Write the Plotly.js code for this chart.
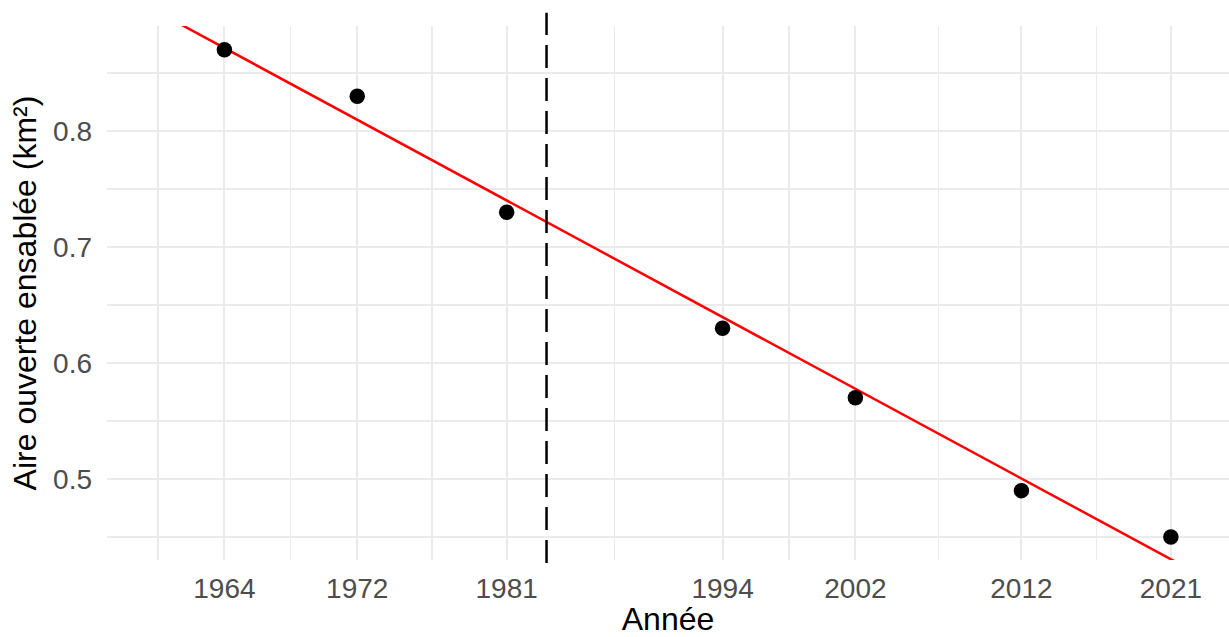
<!DOCTYPE html>
<html>
<head>
<meta charset="utf-8">
<script src="https://cdn.plot.ly/plotly-3.0.1.min.js"></script>
<style>
  html, body { margin: 0; padding: 0; background: #ffffff; }
  #chart { width: 1229px; height: 637px; }
</style>
</head>
<body>
<div id="chart"></div>
<script>
// Data
const years = [1964, 1972, 1981, 1994, 2002, 2012, 2021];
const area = [0.87, 0.83, 0.73, 0.63, 0.57, 0.49, 0.45];
const xTickLabels = ['1964', '1972', '1981', '1994', '2002', '2012', '2021'];
const yTickVals = [0.5, 0.6, 0.7, 0.8];
const yTickLabels = ['0.5', '0.6', '0.7', '0.8'];
const xMinorVals = [1960, 1968, 1976.5, 1987.5, 1998, 2007, 2016.5];
const yMinorVals = [0.45, 0.55, 0.65, 0.75, 0.85];
const breakYear = [1983.4];

// Linear regression fit of the data (lm)
const n = years.length;
const mx = years.reduce((a, b) => a + b, 0) / n;
const my = area.reduce((a, b) => a + b, 0) / n;
let sxy = 0, sxx = 0;
for (let i = 0; i < n; i++) {
  sxy += (years[i] - mx) * (area[i] - my);
  sxx += (years[i] - mx) * (years[i] - mx);
}
const slope = sxy / sxx;
const intercept = my - slope * mx;

const xRange = [1956.93, 2024.5];
const yRange = [0.4302, 0.8905];
const fitX = [xRange[0], xRange[1]];
const fitY = fitX.map(x => intercept + slope * x);

const FONT = 'Liberation Sans, Arial, Helvetica, sans-serif';
const GRID = '#EBEBEB';

const traces = [
  {
    x: fitX, y: fitY, type: 'scatter', mode: 'lines',
    line: { color: '#FF0000', width: 2.5 },
    hoverinfo: 'skip', showlegend: false
  },
  {
    x: years, y: area, type: 'scatter', mode: 'markers',
    marker: { color: '#000000', size: 15.5 },
    showlegend: false
  }
];

const layout = {
  width: 1229, height: 637,
  margin: { l: 107, r: 0, t: 26, b: 77, pad: 0 },
  paper_bgcolor: '#ffffff', plot_bgcolor: '#ffffff',
  font: { family: FONT },
  showlegend: false,
  xaxis: {
    range: xRange,
    tickmode: 'array', tickvals: years, ticktext: xTickLabels,
    ticks: '', showline: false, zeroline: false,
    showgrid: true, gridcolor: GRID, gridwidth: 2,
    minor: { tickmode: 'array', tickvals: xMinorVals, showgrid: true, gridcolor: GRID, gridwidth: 1.2, ticks: '' },
    tickfont: { family: FONT, size: 28, color: '#4D4D4D' },
    ticklabelstandoff: 9,
    title: { text: 'Année', font: { family: FONT, size: 32, color: '#000000' }, standoff: 12 }
  },
  yaxis: {
    range: yRange,
    tickmode: 'array', tickvals: yTickVals, ticktext: yTickLabels,
    ticks: '', showline: false, zeroline: false,
    showgrid: true, gridcolor: GRID, gridwidth: 2,
    minor: { tickmode: 'array', tickvals: yMinorVals, showgrid: true, gridcolor: GRID, gridwidth: 1.2, ticks: '' },
    tickfont: { family: FONT, size: 28, color: '#4D4D4D' },
    ticklabelstandoff: 14,
    title: { text: 'Aire ouverte ensablée (km²)', font: { family: FONT, size: 32, color: '#000000' }, standoff: 6 }
  },
  shapes: [
    {
      type: 'line', xref: 'x', yref: 'paper',
      x0: breakYear[0], x1: breakYear[0], y0: -0.0056, y1: 1.0249,
      line: { color: '#000000', width: 2.5, dash: '23px,10px' }
    }
  ]
};

Plotly.newPlot('chart', traces, layout, { staticPlot: true, displayModeBar: false });
</script>
</body>
</html>
